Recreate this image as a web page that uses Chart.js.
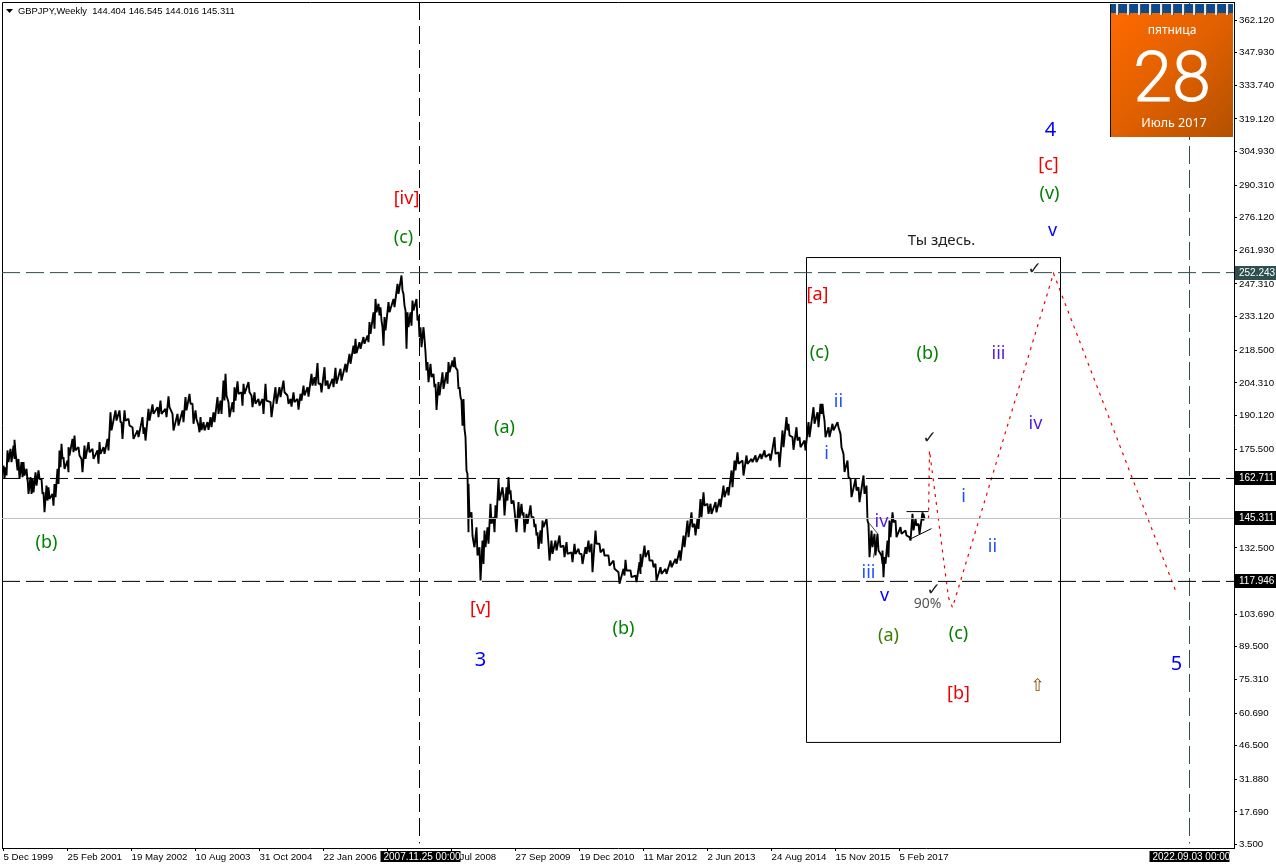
<!DOCTYPE html>
<html><head><meta charset="utf-8">
<style>html,body{margin:0;padding:0;background:#fff;overflow:hidden}canvas{display:block}</style>
<script src="https://cdn.jsdelivr.net/npm/chart.js@4"></script></head>
<body><canvas id="c" width="1276" height="868"></canvas>
<script>
const priceTicks=[362.12,347.93,333.74,319.12,304.93,290.31,276.12,261.93,247.31,233.12,218.5,204.31,190.12,175.5,161.31,147.12,132.5,118.31,103.69,89.5,75.31,60.69,46.5,31.88,17.69,3.5];
const timeTickBars=[1,65,129,193,257,321,385,449,513,577,641,705,769,833,897];
const timeTickLabels=["5 Dec 1999","25 Feb 2001","19 May 2002","10 Aug 2003","31 Oct 2004","22 Jan 2006","15 Apr 2007","6 Jul 2008","27 Sep 2009","19 Dec 2010","11 Mar 2012","2 Jun 2013","24 Aug 2014","15 Nov 2015","5 Feb 2017"];
const bars=[1,3,5,8,11,12,14,16,19,21,24,25,28,30,33,36,39,41,44,46,50,52,55,57,59,61,65,66,70,72,76,79,82,86,90,95,97,101,105,108,113,117,119,122,126,130,135,140,142,146,150,155,158,163,166,170,175,180,183,187,190,193,196,
198,201,205,208,211,215,218,221,223,226,230,232,235,239,241,246,249,252,256,260,263,268,273,277,281,285,288,291,295,298,301,305,309,312,315,318,322,325,330,333,338,343,347,351,353,357,361,365,367,371,373,376,378,380,382,386,391,395,399,401,403,405,408,410,414,416,418,421,
423,425,428,431,433,436,440,444,446,450,452,455,457,459,461,463,465,466,469,471,474,477,480,482,485,488,491,493,496,500,501,504,506,508,511,513,516,519,521,524,528,531,533,535,538,540,544,546,549,553,557,561,564,569,572,576,579,583,586,589,593,597,601,606,611,616,621,623,628,633,637,
638,642,646,650,653,658,663,668,673,677,681,685,689,692,695,698,701,705,708,713,717,721,725,729,732,735,740,744,749,753,758,762,767,772,776,780,784,786,790,794,797,802,806,811,815,818,820,822,826,830,835,838,841,845,848,853,856,861,864,866,869,872,875,879,880,882,885,887,890,893,898,903,907,910,913,916,920,921];
const highs=[168.3,167.6,174.9,175.6,177.0,179.5,170.5,171.2,169.8,169.8,166.9,163.3,163.3,162.5,165.4,166.2,162.5,156.7,159.6,158.9,156.0,160.3,166.9,174.9,177.8,172.0,170.5,176.3,179.9,181.4,176.3,171.2,177.0,178.5,175.6,174.9,178.5,176.3,179.9,191.5,192.3,192.3,187.2,192.3,188.6,185.0,183.6,189.4,185.0,193.0,194.9,193.7,196.6,193.0,198.4,190.8,190.8,192.3,198.1,199.5,195.2,192.3,185.7,
189.4,187.2,187.2,189.4,191.5,198.1,196.6,205.3,208.2,195.9,195.9,202.4,205.0,200.2,203.9,204.6,198.8,200.2,197.3,197.3,203.9,195.9,202.4,202.4,205.3,198.8,197.3,200.2,197.3,199.5,203.1,202.4,208.2,206.8,212.9,203.9,211.1,205.3,206.0,210.8,210.4,212.6,216.9,220.5,223.4,222.0,224.2,224.9,230.7,235.0,240.8,238.7,237.2,228.5,232.9,239.4,240.8,247.4,251.0,243.0,235.8,235.0,235.0,240.1,240.8,233.6,228.5,228.5,
217.6,213.3,212.6,208.2,203.9,204.6,208.9,208.9,213.3,214.0,215.5,209.7,202.4,196.6,197.3,180.7,164.7,160.4,148.0,135.0,141.5,132.8,135.7,140.1,141.5,151.7,145.9,151.0,162.5,158.9,156.0,158.9,163.3,157.5,153.1,144.4,152.4,151.7,148.0,147.3,151.0,145.9,143.0,139.3,140.1,144.4,145.1,134.3,135.7,135.7,137.9,133.5,135.0,130.6,134.3,132.1,129.9,132.8,135.7,134.3,140.1,134.3,132.1,129.2,127.0,121.9,123.4,127.3,122.7,120.5,126.3,
129.9,133.5,131.4,127.0,125.6,124.1,123.4,127.0,127.7,131.4,137.9,144.4,148.0,143.0,145.1,153.8,156.7,151.7,151.7,152.4,153.8,159.6,158.9,166.2,170.5,174.1,170.5,172.7,171.2,172.7,173.4,174.9,173.4,180.7,174.1,183.6,189.4,186.5,180.7,185.0,180.7,179.2,187.2,193.7,191.5,195.2,195.2,187.9,185.0,186.5,187.2,182.1,173.4,170.5,162.5,162.5,158.9,164.0,159.6,143.0,140.1,138.6,138.6,129.2,131.4,128.5,135.7,144.4,148.0,144.4,141.5,140.1,137.2,147.3,145.1,143.0,148.0,147.3];
const lows=[162.5,164.0,169.8,169.8,171.2,174.1,166.2,162.5,163.3,164.0,161.8,156.0,156.0,156.7,159.6,162.5,156.0,148.0,153.1,153.8,150.9,154.6,160.3,167.6,171.2,166.9,165.4,172.7,174.1,174.9,172.7,165.4,171.2,174.1,171.2,169.1,173.4,173.4,174.9,183.6,187.9,187.2,179.9,187.9,185.7,179.9,180.7,182.1,179.2,187.9,190.8,189.4,190.8,189.4,193.7,183.6,185.7,187.2,192.3,195.2,186.5,188.6,182.8,
183.8,183.6,183.8,185.0,187.2,190.8,190.8,196.6,198.8,189.4,191.5,196.6,199.5,194.4,199.5,200.2,193.7,195.2,194.4,190.8,196.6,189.4,195.2,198.1,200.2,195.2,194.0,195.9,192.6,196.6,198.8,198.3,203.1,203.1,203.9,200.2,203.1,201.7,202.4,203.9,205.3,208.9,212.6,216.9,217.2,219.1,221.3,222.0,225.6,227.8,235.0,233.6,231.4,220.5,227.1,235.0,237.2,243.0,244.5,237.9,219.1,228.5,229.2,235.8,231.4,224.2,219.8,223.4,
209.7,204.6,206.8,202.4,192.5,198.8,201.7,203.9,208.9,211.1,211.1,201.7,198.1,185.7,184.3,166.2,139.3,145.9,137.9,132.8,129.2,118.3,125.5,132.8,134.3,143.0,139.3,145.1,153.1,154.6,146.6,153.1,156.0,151.7,148.8,139.3,145.1,146.6,139.3,143.0,145.9,141.5,137.9,132.1,134.3,141.5,140.1,127.0,129.9,131.4,132.8,128.5,129.9,126.3,129.9,129.9,125.5,129.9,130.6,121.9,134.3,130.6,129.2,124.8,123.4,116.9,120.5,122.7,119.8,117.6,121.2,
124.1,128.5,127.0,124.1,118.3,121.2,121.2,124.1,125.6,127.0,132.8,137.2,141.5,137.9,140.8,145.9,150.9,147.3,147.3,148.0,150.2,154.6,155.3,158.9,166.2,169.1,164.0,169.1,169.8,169.8,171.2,172.0,170.5,173.4,167.6,176.3,183.6,181.4,175.2,179.2,176.3,174.9,180.7,186.5,185.0,190.8,190.8,180.7,180.7,183.6,185.0,176.3,165.5,163.3,154.6,157.5,152.4,156.0,144.4,128.5,132.8,129.2,131.4,125.6,119.8,125.6,128.5,137.2,143.7,137.2,138.6,137.9,135.7,140.1,142.2,138.6,144.4,145.3];
const levelBlue=252.243, levelUpper=162.711, levelLast=145.311, levelLower=117.946;
const markerBarA=417, markerBarB=1187;
const boxBars=[804,1058,1058,804,804];
const boxPrices=[258.8,258.8,47.9,47.9,258.8];
const forecastBars=[926,927,946,950,1051,1173];
const forecastPrices=[145.3,174.9,110.9,106.6,251.9,114.0];
const flatBars=[904,926], flatPrices=[148.3,148.3];
const riseBars=[907,929], risePrices=[136.2,140.9];
const thinBars=[867,875,871], thinPrices=[143.1,138.8,128.3];
const waveText=["[iv]","(c)","(b)","(a)","[v]","3","(b)","[a]","(c)","(b)","iii","ii","i","iv","i","ii","iv","iii","v","(a)","(c)","[b]","90%","Ты здесь.","4","[c]","(v)","v","5","✓","✓","✓","⇧"];
const waveBar=[404,401,44,502,478,478,621,815,817,925,996,836,824,1033,961,990,879,866,882,886,956,956,925,939,1048,1046,1047,1050,1174,927,931,1032,1035];
const wavePrice=[284.5,267.5,134.9,184.9,106.1,83.5,97.4,242.7,217.5,217.1,217.1,196.2,173.6,186.6,154.9,133.1,144.0,121.8,111.8,94.4,95.3,69.2,107.9,266.2,314.1,299.3,286.7,270.6,81.8,180.1,114.0,253.6,72.2];
const waveKind=["red","green","green","green","red","blue","green","red","green","green","violet","azure","azure","violet","azure","azure","violet","azure","blue","olive","green","red","gray","dark","blue","red","green","blue","blue","check","check","check","arrow"];
const axisTagValues=[252.243,162.711,145.311,117.946];
const axisTagColors=["#2f4f4f","#000","#000","#000"];
const timeTagBars=[378,1147], timeTagLabels=["2007.11.25 00:00","2022.09.03 00:00"];
const headerText="GBPJPY,Weekly  144.404 146.545 144.016 145.311";

const kindStyle={red:["#f00000",'18px "Noto Sans"'],green:["#008000",'18px "Noto Sans"'],olive:["#3c7d00",'18px "Noto Sans"'],blue:["#0000ff",'18px "Noto Sans"'],azure:["#1c50ff",'18px "Noto Sans"'],violet:["#5420e0",'18px "Noto Sans"'],gray:["#555",'14px "Noto Sans"'],dark:["#222",'15px "Noto Sans"'],check:["#222",'bold 17px "DejaVu Sans"'],arrow:["#8a4a00",'17px "DejaVu Sans"']};
const bigNums=new Set(["3","4","5"]);
const XMIN=-0.5,XMAX=1231.5,YMIN=1.98,YMAX=369.95;
const pts=(xs,ys)=>xs.map((x,i)=>({x,y:ys[i]}));
const line=(data,color,width,dash)=>({data,borderColor:color,borderWidth:width,borderDash:dash||[],pointRadius:0,tension:0,fill:false});
const series=[];bars.forEach((b,i)=>{series.push({x:b,y:highs[i]});series.push({x:b+1,y:lows[i]});});
const noPad=s=>{s.paddingTop=0;s.paddingBottom=0;s.paddingLeft=0;s.paddingRight=0;};

const overlay={id:'overlay',
 beforeDatasetsDraw(ch){const c=ch.ctx,a=ch.chartArea;c.save();c.strokeStyle='#000';c.lineWidth=1;c.beginPath();c.moveTo(a.left+.5,a.bottom);c.lineTo(a.left+.5,a.top+.5);c.lineTo(a.right,a.top+.5);c.stroke();c.restore();},
 afterDraw(ch){const c=ch.ctx,xs=ch.scales.x,ys=ch.scales.y;c.save();
  c.textAlign='center';c.textBaseline='middle';
  waveText.forEach((t,i)=>{const st=kindStyle[waveKind[i]];c.fillStyle=st[0];c.font=bigNums.has(t)?'20px "Noto Sans"':st[1];c.fillText(t,xs.getPixelForValue(waveBar[i]),ys.getPixelForValue(wavePrice[i]));});
  c.fillStyle='#000';c.beginPath();c.moveTo(6,9);c.lineTo(13,9);c.lineTo(9.5,13);c.closePath();c.fill();
  c.textAlign='left';c.font='9.4px "Liberation Sans"';c.fillStyle='#000';c.fillText(headerText,18,11);
  c.font='10px "Liberation Sans"';
  axisTagValues.forEach((v,i)=>{const y=Math.round(ys.getPixelForValue(v));c.fillStyle=axisTagColors[i];c.fillRect(1235,y-7,41,14);c.fillStyle='#fff';c.fillText(v.toFixed(3),1239,y);});
  timeTagBars.forEach((b,i)=>{const x=xs.getPixelForValue(b);c.fillStyle='#000';c.fillRect(x,851,80,11);c.fillStyle='#fff';c.fillText(timeTagLabels[i],x+3,857);});
  const g=c.createLinearGradient(1110,12,1233,137);g.addColorStop(0,'#ff6a00');g.addColorStop(.5,'#e06000');g.addColorStop(1,'#b45000');
  c.fillStyle=g;c.fillRect(1110,12,123,125);
  c.fillStyle='#0b4a8c';c.fillRect(1110,4,123,9);
  for(let k=0;k<11;k++){const x=1116+k*11;c.fillStyle='#e8e8e8';c.fillRect(x,4,3,11);c.fillStyle='#555';c.fillRect(x+2,4,1,11);}
  c.fillStyle='#111';c.fillRect(1110,4,1,133);
  c.fillStyle='#fff';c.strokeStyle='#fff';c.textAlign='center';
  c.font='12px "Noto Sans"';c.fillText('пятница',1172,31);
  c.font='300 70px "Roboto"';c.lineWidth=.8;c.fillText('28',1172,83);c.strokeText('28',1172,83);
  c.font='12.5px "Noto Sans"';c.fillText('Июль 2017',1174,123);
  c.restore();}
};

const priceLine=line(series,'#000',1.9);priceLine.borderJoinStyle='bevel';
new Chart(document.getElementById('c'),{type:'line',plugins:[overlay],
 data:{datasets:[
  line(pts([XMIN,XMAX],[levelLast,levelLast]),'#c0c0c0',1),
  line(pts([XMIN,XMAX],[levelBlue,levelBlue]),'#2f4f4f',1,[18,6]),
  line(pts([XMIN,XMAX],[levelUpper,levelUpper]),'#000',1,[18,6]),
  line(pts([XMIN,XMAX],[levelLower,levelLower]),'#000',1,[18,6]),
  line(pts([markerBarA,markerBarA],[YMAX,YMIN+2]),'#000',1,[18,6]),
  line(pts([markerBarB,markerBarB],[YMAX,YMIN+2]),'#2f4f4f',1,[18,6]),
  priceLine,
  line(pts(boxBars,boxPrices),'#000',1),
  line(pts(forecastBars,forecastPrices),'#f00000',1.2,[3,5]),
  line(pts(flatBars,flatPrices),'#000',1),
  line(pts(riseBars,risePrices),'#000',1),
  line(pts(thinBars,thinPrices),'#445',1)
 ]},
 options:{responsive:false,animation:false,devicePixelRatio:1,
  layout:{autoPadding:false,padding:{left:2,top:2,right:0,bottom:0}},
  plugins:{legend:{display:false},tooltip:{enabled:false},title:{display:false}},
  scales:{
   x:{type:'linear',min:XMIN,max:XMAX,bounds:'data',
    afterBuildTicks(s){s.ticks=timeTickBars.map(v=>({value:v}));},
    afterFit(s){s.height=20;noPad(s);},
    border:{color:'#000',width:1},
    grid:{drawOnChartArea:false,color:'#000',tickLength:3},
    ticks:{autoSkip:false,maxRotation:0,minRotation:0,align:'start',padding:1,color:'#000',font:{family:'Liberation Sans',size:9.7},callback(v,i){return timeTickLabels[i];}}},
   y:{type:'linear',position:'right',min:YMIN,max:YMAX,bounds:'data',
    afterBuildTicks(s){s.ticks=priceTicks.map(v=>({value:v}));},
    afterFit(s){s.width=42;noPad(s);},
    border:{color:'#000',width:1},
    grid:{drawOnChartArea:false,color:'#000',tickLength:3},
    ticks:{autoSkip:false,padding:2,color:'#000',font:{family:'Liberation Sans',size:9.7},callback(v){return v.toFixed(3);}}}
  }}});
</script></body></html>
